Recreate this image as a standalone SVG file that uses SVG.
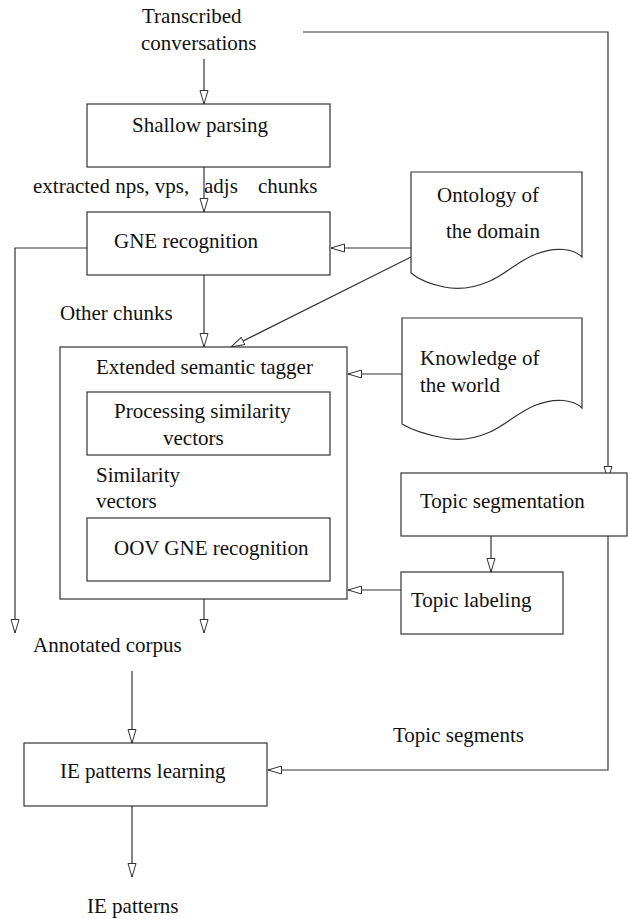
<svg xmlns="http://www.w3.org/2000/svg" width="628" height="919" viewBox="0 0 628 919">
<style>
text{font-family:"Liberation Serif","Times New Roman",serif;font-size:21px;fill:#111}
.box{fill:#fff;stroke:#333;stroke-width:1.2}
.ln{fill:none;stroke:#333;stroke-width:1.2}
</style>
<defs>
<marker id="ah" markerUnits="userSpaceOnUse" markerWidth="16" markerHeight="10" refX="14" refY="4.5" orient="auto">
<path d="M0.5,0.5 L14,4.5 L0.5,8.5 Z" fill="#fff" stroke="#333" stroke-width="1"/>
</marker>
</defs>
<rect width="628" height="919" fill="#fff"/>
<g id="connectors">
<path class="ln" d="M204,59 V104" marker-end="url(#ah)"/>
<path class="ln" d="M204,167 V212" marker-end="url(#ah)"/>
<path class="ln" d="M87,248 H15 V633" marker-end="url(#ah)"/>
<path class="ln" d="M411,248 H331" marker-end="url(#ah)"/>
<path class="ln" d="M411,257 L231,347" marker-end="url(#ah)"/>
<path class="ln" d="M204,275 V347" marker-end="url(#ah)"/>
<path class="ln" d="M402,374 H348" marker-end="url(#ah)"/>
<path class="ln" d="M204,455 V518" marker-end="url(#ah)"/>
<path class="ln" d="M303,32 H608 V480" marker-end="url(#ah)"/>
<path class="ln" d="M491,536 V572" marker-end="url(#ah)"/>
<path class="ln" d="M401,590 H348" marker-end="url(#ah)"/>
<path class="ln" d="M204,599 V633" marker-end="url(#ah)"/>
<path class="ln" d="M132,671 V743" marker-end="url(#ah)"/>
<path class="ln" d="M608,536 V770 H268" marker-end="url(#ah)"/>
<path class="ln" d="M132,806 V877" marker-end="url(#ah)"/>
</g>
<g id="transcribed">
<text x="142" y="23">Transcribed</text>
<text x="141" y="50">conversations</text>
</g>
<g id="shallow">
<rect class="box" x="87" y="104" width="243" height="63"/>
<text x="132" y="132">Shallow parsing</text>
</g>
<g id="label-extracted">
<text x="33" y="193">extracted nps, vps,<tspan x="204">adjs</tspan><tspan x="258">chunks</tspan></text>
</g>
<g id="gne">
<rect class="box" x="87" y="212" width="243" height="63"/>
<text x="114" y="248">GNE recognition</text>
</g>
<g id="ontology">
<path class="box" d="M411,172 H582 V257 C574,249 556,246 536,254 C518,261 506,274 490,281 C474,288 458,290 444,287 C430,284 418,279 411,273 Z"/>
<text x="437" y="202">Ontology of</text>
<text x="446" y="238">the domain</text>
</g>
<g id="label-other">
<text x="60" y="320">Other chunks</text>
</g>
<g id="tagger">
<rect class="box" x="60" y="347" width="287" height="252"/>
<text x="96" y="374">Extended semantic tagger</text>
</g>
<g id="processing">
<rect class="box" x="87" y="392" width="243" height="63"/>
<text x="114" y="418">Processing similarity</text>
<text x="163" y="445">vectors</text>
</g>
<g id="label-similarity">
<text x="96" y="482">Similarity</text>
<text x="96" y="508">vectors</text>
</g>
<g id="oov">
<rect class="box" x="87" y="518" width="243" height="63"/>
<text x="114" y="555">OOV GNE recognition</text>
</g>
<g id="knowledge">
<path class="box" d="M402,318 H582 V408 C574,400 556,397 536,405 C518,412 506,425 490,432 C474,439 458,441 444,438 C428,435 412,430 402,424 Z"/>
<text x="420" y="365">Knowledge of</text>
<text x="420" y="392">the world</text>
</g>
<g id="topicseg">
<rect class="box" x="401" y="473" width="226" height="63"/>
<text x="420" y="508">Topic segmentation</text>
</g>
<g id="topiclab">
<rect class="box" x="401" y="572" width="162" height="62"/>
<text x="411" y="607">Topic labeling</text>
</g>
<g id="annotated">
<text x="33" y="652">Annotated corpus</text>
</g>
<g id="label-topicsegments">
<text x="393" y="742">Topic segments</text>
</g>
<g id="ielearning">
<rect class="box" x="24" y="743" width="243" height="63"/>
<text x="60" y="778">IE patterns learning</text>
</g>
<g id="iepatterns">
<text x="87" y="913">IE patterns</text>
</g>
</svg>
